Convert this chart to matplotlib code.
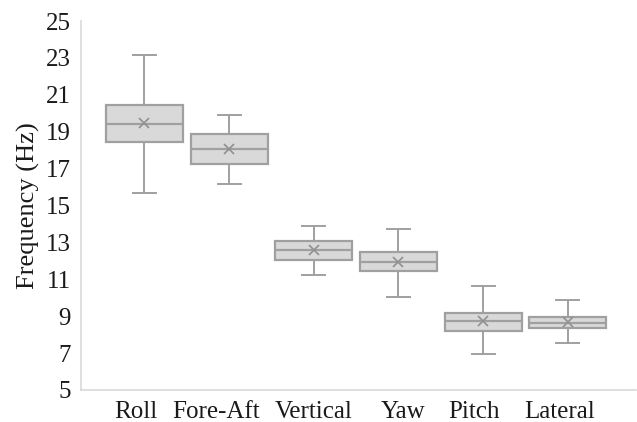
import matplotlib
matplotlib.use("Agg")
import matplotlib.pyplot as plt
import matplotlib.transforms as mtransforms

categories = ["Roll", "Fore-Aft", "Vertical", "Yaw", "Pitch", "Lateral"]
whisker_low = [15.68, 16.17, 11.22, 10.06, 6.95, 7.56]
q1 = [18.46, 17.25, 12.05, 11.45, 8.21, 8.36]
median = [19.43, 18.08, 12.57, 11.92, 8.72, 8.63]
q3 = [20.45, 18.89, 13.05, 12.48, 9.19, 8.98]
whisker_high = [23.14, 19.92, 13.90, 13.74, 10.66, 9.85]
mean = [19.45, 18.04, 12.57, 11.95, 8.74, 8.70]
yticks = [5, 7, 9, 11, 13, 15, 17, 19, 21, 23, 25]

plt.rcParams['font.family'] = ['Liberation Serif', 'DejaVu Serif']

fig = plt.figure(figsize=(6.37, 4.22), dpi=100)
ax = fig.add_axes([0.1267, 0.076, 0.871, 0.874])

stats = []
for i, c in enumerate(categories):
    stats.append(dict(label=c, whislo=whisker_low[i], q1=q1[i], med=median[i],
                      q3=q3[i], whishi=whisker_high[i], mean=mean[i], fliers=[]))

edge = "#a0a0a0"
ax.bxp(stats, positions=range(len(categories)), widths=0.91, patch_artist=True,
       showmeans=True,
       boxprops=dict(facecolor="#d9d9d9", edgecolor=edge, linewidth=1.6),
       medianprops=dict(color=edge, linewidth=1.6),
       whiskerprops=dict(color=edge, linewidth=1.4),
       capprops=dict(color=edge, linewidth=1.4),
       capwidths=0.27,
       meanprops=dict(marker="x", markeredgecolor="#909090", markersize=7, markeredgewidth=1.2))

ax.set_xlim(-0.753, 5.80)
ax.set_ylim(5, 25)
ax.set_yticks(yticks)
ax.set_xticks(range(len(categories)))
ax.set_xticklabels(categories)
ax.tick_params(axis="both", length=0, labelsize=18, colors="#1a1a1a")
ax.tick_params(axis="x", pad=8)
ax.tick_params(axis="y", pad=7)

# small horizontal nudges of the category labels, as in the reference
label_shift_px = [-9, -13, 0, 5, -9, -8]
for lab, dx in zip(ax.get_xticklabels(), label_shift_px):
    lab.set_transform(lab.get_transform() +
                      mtransforms.ScaledTranslation(dx / 100, 0, fig.dpi_scale_trans))

for s in ["top", "right"]:
    ax.spines[s].set_visible(False)
for s in ["left", "bottom"]:
    ax.spines[s].set_color("#d9d9d9")
    ax.spines[s].set_linewidth(1.2)
ax.set_ylabel("Frequency (Hz)", fontsize=19, color="#1a1a1a", labelpad=4)

fig.savefig("out.png", dpi=100)
